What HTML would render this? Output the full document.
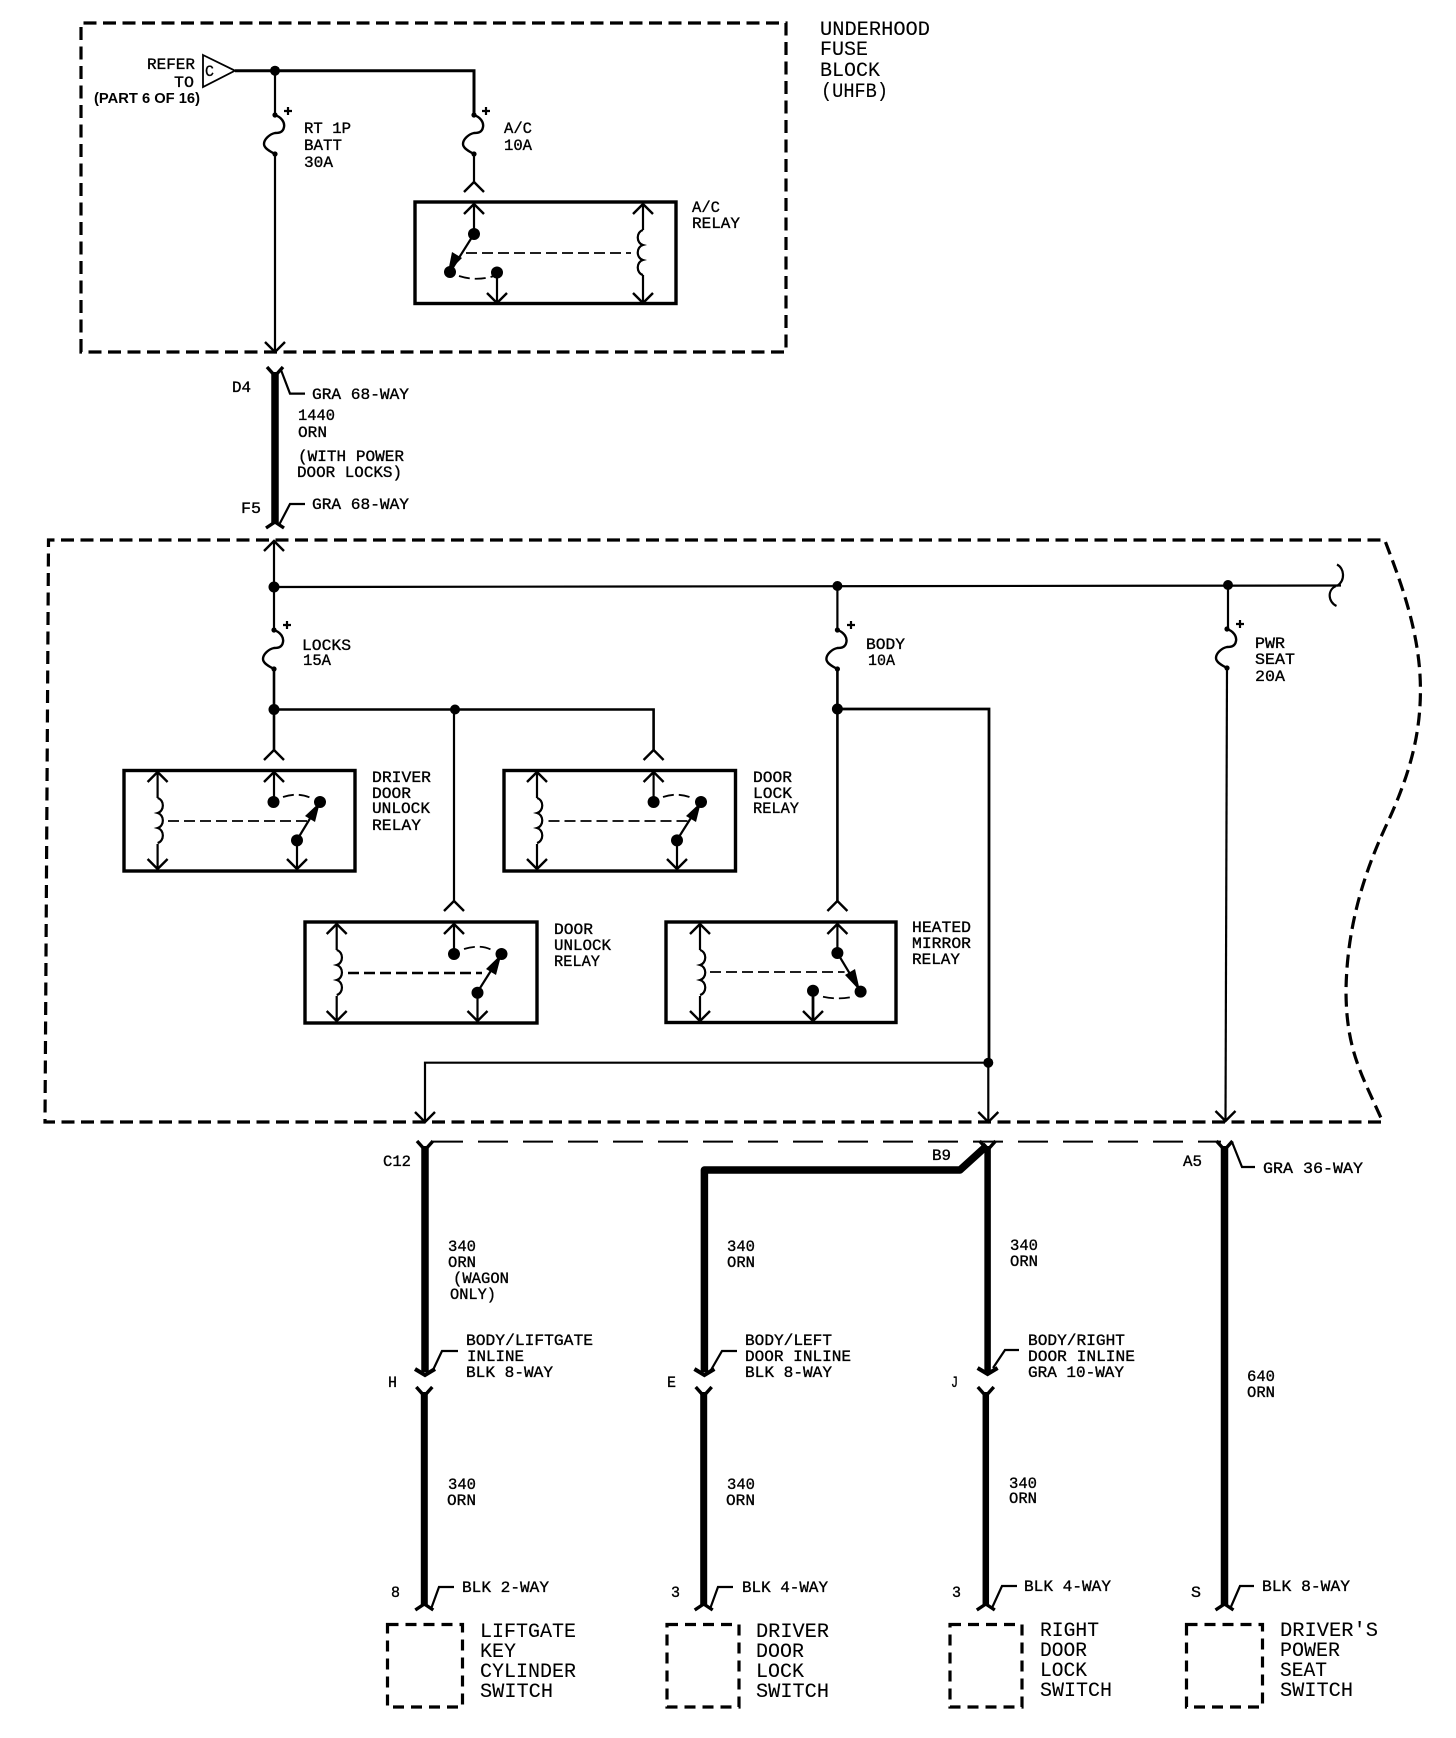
<!DOCTYPE html>
<html><head><meta charset="utf-8"><style>
html,body{margin:0;padding:0;background:#fff}
svg{display:block}
text{font-family:"Liberation Mono","DejaVu Sans Mono",monospace;fill:#000;stroke:#000}
.s{font-size:16px;stroke-width:.35px}
.l{font-size:20px;stroke-width:.1px}
.w{fill:none;stroke:#000;stroke-width:2.2}
.t{fill:none;stroke:#000;stroke-width:7.5;stroke-linejoin:round}
.b{fill:none;stroke:#000;stroke-width:3.4}
.d{fill:none;stroke:#000;stroke-width:3.2;stroke-dasharray:13 6.5}
.f{fill:none;stroke:#000;stroke-width:1.8;stroke-dasharray:11 5}
.q{fill:none;stroke:#000;stroke-width:1.8}
</style></head><body>
<svg width="1456" height="1738" viewBox="0 0 1456 1738" xmlns="http://www.w3.org/2000/svg">
<defs>
<path id="dn" d="M-10,-10 L0,0 L10,-10" fill="none" stroke="#000" stroke-width="2.4"/>
<path id="up" d="M-10,10 L0,0 L10,10" fill="none" stroke="#000" stroke-width="2.4"/>
<g id="fuse"><path d="M0,0 C6,2 10,7 9,12 C8,18 3,18 0,18 C-5,19 -11,24 -11,29 C-11,33 -6,36 0,39" fill="none" stroke="#000" stroke-width="2.4"/><circle r="2.6"/><circle cy="39" r="2.6"/></g>
<path id="coil" d="M0,0 c7,2 7,13 0,15 c7,2 7,13 0,15 c7,2 7,13 0,15" fill="none" stroke="#000" stroke-width="2.2"/>
<path id="hd" d="M-10,-5 L0,1 L10,-5" fill="none" stroke="#000" stroke-width="4"/>
<path id="hu" d="M-8,-5 L0,4 L8,-5" fill="none" stroke="#000" stroke-width="3.4"/>
<path id="hb" d="M-9,1 L0,-5 L9,1" fill="none" stroke="#000" stroke-width="3.4"/>
</defs>

<!-- UHFB box -->
<path class="d" d="M81,352 L81,23 L786,23 L786,352 Z"/>
<text class="l" x="820" y="35" textLength="110" lengthAdjust="spacingAndGlyphs">UNDERHOOD</text>
<text class="l" x="820" y="55" textLength="48" lengthAdjust="spacingAndGlyphs">FUSE</text>
<text class="l" x="820" y="76" textLength="60" lengthAdjust="spacingAndGlyphs">BLOCK</text>
<text class="l" x="821" y="97" textLength="67" lengthAdjust="spacingAndGlyphs">(UHFB)</text>

<text class="s" x="147" y="69" textLength="48" lengthAdjust="spacingAndGlyphs">REFER</text>
<text class="s" x="174" y="87" textLength="20" lengthAdjust="spacingAndGlyphs">TO</text>
<text class="s" x="94" y="103" textLength="106" lengthAdjust="spacingAndGlyphs" style="font-family:'Liberation Sans',sans-serif;font-size:14.5px;font-weight:bold;stroke-width:0">(PART 6 OF 16)</text>
<path class="q" d="M203,55 L235,70.7 L203,87 Z"/>
<text class="s" x="205" y="76" textLength="9" lengthAdjust="spacingAndGlyphs">C</text>
<path class="w" style="stroke-width:3" d="M235,70.7 H474 V115"/>
<circle cx="275" cy="70.7" r="5"/>
<path class="w" d="M275,70.7 V115"/>
<use href="#fuse" x="275" y="115"/>
<use href="#fuse" x="474" y="115"/>
<path class="w" d="M275,154 V352"/>
<use href="#dn" x="275" y="352"/>
<path class="w" d="M474,154 V182"/>
<use href="#up" x="474" y="182"/>
<path class="w" d="M284,111 h8 M288,107 v8"/>
<path class="w" d="M482,111 h8 M486,107 v8"/>
<text class="s" x="304" y="133" textLength="47" lengthAdjust="spacingAndGlyphs">RT 1P</text>
<text class="s" x="304" y="150" textLength="38" lengthAdjust="spacingAndGlyphs">BATT</text>
<text class="s" x="304" y="167" textLength="29" lengthAdjust="spacingAndGlyphs">30A</text>
<text class="s" x="504" y="133" textLength="28" lengthAdjust="spacingAndGlyphs">A/C</text>
<text class="s" x="504" y="150" textLength="28" lengthAdjust="spacingAndGlyphs">10A</text>

<!-- A/C relay -->
<rect class="b" x="415" y="202" width="261" height="101.5"/>
<text class="s" x="692" y="212" textLength="28" lengthAdjust="spacingAndGlyphs">A/C</text>
<text class="s" x="692" y="228" textLength="48" lengthAdjust="spacingAndGlyphs">RELAY</text>
<use href="#up" x="474" y="204"/><path class="w" d="M474,204 V234"/>
<circle cx="474" cy="234" r="6"/>
<path class="w" d="M474,234 L450,272"/>
<path d="M448,272 L452,252 L462,258 Z"/>
<circle cx="450" cy="272" r="6"/>
<path class="f" d="M459,276 Q478,282 497,275"/>
<circle cx="497" cy="272.5" r="6"/>
<path class="w" d="M497,272 V303"/><use href="#dn" x="497" y="303"/>
<use href="#up" x="643" y="204"/><path class="w" d="M643,204 V230 M643,275 V303"/><use href="#dn" x="643" y="303"/>
<use href="#coil" transform="translate(643,230) scale(-1,1)"/>
<path class="f" d="M466,253 H631"/>

<!-- D4 to F5 -->
<path class="t" d="M275,372 V524"/>
<use href="#hu" x="275" y="372"/>
<use href="#hb" x="275" y="527"/>
<text class="s" x="232" y="392" textLength="19" lengthAdjust="spacingAndGlyphs">D4</text>
<path class="w" d="M281,370 L290,393.6 H305"/>
<text class="s" x="312" y="399" textLength="97" lengthAdjust="spacingAndGlyphs">GRA 68-WAY</text>
<text class="s" x="298" y="420" textLength="37" lengthAdjust="spacingAndGlyphs">1440</text>
<text class="s" x="298" y="437" textLength="29" lengthAdjust="spacingAndGlyphs">ORN</text>
<text class="s" x="298" y="461" textLength="106" lengthAdjust="spacingAndGlyphs">(WITH POWER</text>
<text class="s" x="297" y="477" textLength="105" lengthAdjust="spacingAndGlyphs">DOOR LOCKS)</text>
<text class="s" x="241" y="513" textLength="20" lengthAdjust="spacingAndGlyphs">F5</text>
<path class="w" d="M279,525 L290,504 H305"/>
<text class="s" x="312" y="509" textLength="97" lengthAdjust="spacingAndGlyphs">GRA 68-WAY</text>

<!-- Fuse block main -->
<path class="d" d="M1381,1122 H45 L48.5,540 H1384.7 C1400,580 1417,625 1420,675 C1423,730 1410,775 1385,828 C1362,878 1347,930 1346,990 C1346,1050 1362,1075 1381,1118"/>
<use href="#up" x="274" y="541"/>
<path class="w" d="M274,541 V630"/>
<circle cx="274" cy="587" r="5.5"/>
<path class="w" d="M274,587 L1341,585.5"/>
<path class="w" d="M1337,564.5 C1344,568 1346,580 1337,586 M1336,586 C1327,590 1328,602 1336.5,606"/>
<circle cx="837.4" cy="586" r="5"/>
<circle cx="1228" cy="585" r="5"/>
<path class="w" d="M837.4,586 V630 M1228,585 V629"/>
<use href="#fuse" x="274" y="630"/>
<use href="#fuse" x="837.4" y="630"/>
<use href="#fuse" x="1227" y="629"/>
<path class="w" d="M283,625 h8 M287,621 v8"/>
<path class="w" d="M847,625 h8 M851,621 v8"/>
<path class="w" d="M1236,624 h8 M1240,620 v8"/>
<text class="s" x="302" y="650" textLength="49" lengthAdjust="spacingAndGlyphs">LOCKS</text>
<text class="s" x="303" y="665" textLength="28" lengthAdjust="spacingAndGlyphs">15A</text>
<text class="s" x="866" y="649" textLength="39" lengthAdjust="spacingAndGlyphs">BODY</text>
<text class="s" x="868" y="665" textLength="27" lengthAdjust="spacingAndGlyphs">10A</text>
<text class="s" x="1255" y="648" textLength="30" lengthAdjust="spacingAndGlyphs">PWR</text>
<text class="s" x="1255" y="664" textLength="40" lengthAdjust="spacingAndGlyphs">SEAT</text>
<text class="s" x="1255" y="681" textLength="30" lengthAdjust="spacingAndGlyphs">20A</text>

<path class="w" style="stroke-width:2.6" d="M274,669 V750"/>
<circle cx="274" cy="709.5" r="5.5"/>
<path class="w" style="stroke-width:2.6" d="M274,709.5 H653.6 V750"/>
<circle cx="455" cy="709.5" r="5"/>
<path class="w" d="M454,709 V901.6"/>
<use href="#up" x="274" y="750"/><use href="#up" x="653.6" y="750"/><use href="#up" x="454" y="901"/><use href="#up" x="837.4" y="901"/>

<path class="w" style="stroke-width:2.6" d="M837.4,669 V901"/>
<circle cx="837.4" cy="709" r="5.5"/>
<path class="w" style="stroke-width:2.8" d="M837.4,709 H989 V1062"/>
<path class="w" d="M988.3,1062 V1122"/>
<use href="#dn" x="988.3" y="1122"/>
<circle cx="988.3" cy="1062.7" r="5"/>
<path class="w" d="M988.3,1062.7 H425 V1122"/>
<use href="#dn" x="425" y="1122"/>
<path class="w" d="M1227,668 L1225.5,1121"/>
<use href="#dn" x="1225.5" y="1121"/>

<!-- Driver door unlock relay -->
<rect class="b" x="124" y="770.5" width="231" height="100.5"/>
<use href="#up" x="157.6" y="772"/><path class="w" d="M157.6,772 V798 M157.6,844 V869"/><use href="#dn" x="157.6" y="869"/>
<use href="#coil" x="157.6" y="798"/>
<path class="f" d="M168,821 H311"/>
<use href="#up" x="274" y="772"/><path class="w" d="M274,772 V802"/><circle cx="273.5" cy="802" r="6"/>
<path class="f" d="M283,797 Q298,792 311,798"/><circle cx="320" cy="802" r="6"/>
<path class="w" d="M297,840 L320,802"/><path d="M320,802 L315,822 L305,816 Z"/>
<circle cx="297" cy="840.4" r="6"/>
<path class="w" d="M297,840 V869"/><use href="#dn" x="297" y="869"/>
<text class="s" x="372" y="782" textLength="59" lengthAdjust="spacingAndGlyphs">DRIVER</text>
<text class="s" x="372" y="798" textLength="39" lengthAdjust="spacingAndGlyphs">DOOR</text>
<text class="s" x="372" y="813" textLength="58" lengthAdjust="spacingAndGlyphs">UNLOCK</text>
<text class="s" x="372" y="830" textLength="49" lengthAdjust="spacingAndGlyphs">RELAY</text>

<!-- Door lock relay -->
<rect class="b" x="504" y="770.5" width="231.5" height="100.5"/>
<use href="#up" x="537" y="772"/><path class="w" d="M537,772 V798 M537,844 V869"/><use href="#dn" x="537" y="869"/>
<use href="#coil" x="537" y="798"/>
<path class="f" d="M548.5,821 H689"/>
<use href="#up" x="653.6" y="772"/><path class="w" d="M653.6,772 V802"/><circle cx="653.6" cy="802" r="6"/>
<path class="f" d="M663,797 Q678,792 692,798"/><circle cx="701" cy="802" r="6"/>
<path class="w" d="M677,840 L701,802"/><path d="M701,802 L696,822 L686,816 Z"/>
<circle cx="677" cy="840.4" r="6"/>
<path class="w" d="M677,840 V869"/><use href="#dn" x="677" y="869"/>
<text class="s" x="753" y="782" textLength="39" lengthAdjust="spacingAndGlyphs">DOOR</text>
<text class="s" x="753" y="798" textLength="39" lengthAdjust="spacingAndGlyphs">LOCK</text>
<text class="s" x="753" y="813" textLength="46" lengthAdjust="spacingAndGlyphs">RELAY</text>

<!-- Door unlock relay -->
<rect class="b" x="305" y="922" width="232" height="101"/>
<use href="#up" x="336.7" y="924"/><path class="w" d="M336.7,924 V950 M336.7,996 V1021"/><use href="#dn" x="336.7" y="1021"/>
<use href="#coil" x="336.7" y="950"/>
<path class="f" style="stroke-width:2.4" d="M348,973 H482"/>
<use href="#up" x="454" y="924"/><path class="w" d="M454,924 V954"/><circle cx="454" cy="954" r="6"/>
<path class="f" d="M464,949 Q480,944 492,950"/><circle cx="501.5" cy="954" r="6"/>
<path class="w" d="M477.5,992 L501.5,954"/><path d="M501.5,954 L496,975 L486,969 Z"/>
<circle cx="477.5" cy="992.7" r="6"/>
<path class="w" d="M477.5,992 V1021"/><use href="#dn" x="477.5" y="1021"/>
<text class="s" x="554" y="934" textLength="39" lengthAdjust="spacingAndGlyphs">DOOR</text>
<text class="s" x="554" y="950" textLength="57" lengthAdjust="spacingAndGlyphs">UNLOCK</text>
<text class="s" x="554" y="966" textLength="46" lengthAdjust="spacingAndGlyphs">RELAY</text>

<!-- Heated mirror relay -->
<rect class="b" x="666" y="922" width="230" height="100.5"/>
<use href="#up" x="700" y="924"/><path class="w" d="M700,924 V950 M700,996 V1021"/><use href="#dn" x="700" y="1021"/>
<use href="#coil" x="700" y="950"/>
<path class="f" d="M710,972 H844.6"/>
<use href="#up" x="837.4" y="924"/><path class="w" d="M837.4,924 V953"/><circle cx="837.4" cy="953" r="6"/>
<path class="w" d="M837.4,953 L860.6,991.6"/><path d="M860,991 L845,975 L855,969 Z"/>
<circle cx="860.6" cy="991.6" r="6"/>
<path class="f" d="M823,996.7 Q838,1000 853,996.7"/><circle cx="813" cy="990.8" r="6"/>
<path class="w" style="stroke-width:2.8" d="M813,991 V1021"/><use href="#dn" x="813" y="1021"/>
<text class="s" x="912" y="932" textLength="59" lengthAdjust="spacingAndGlyphs">HEATED</text>
<text class="s" x="912" y="948" textLength="59" lengthAdjust="spacingAndGlyphs">MIRROR</text>
<text class="s" x="912" y="964" textLength="48" lengthAdjust="spacingAndGlyphs">RELAY</text>

<!-- Lower connector line -->
<path class="q" style="stroke-width:2" stroke-dasharray="30 15" d="M433,1141.6 H1221"/>

<!-- Liftgate column -->
<path class="t" d="M425,1146 V1372"/><use href="#hu" x="425" y="1146"/><use href="#hd" x="425" y="1374"/>
<path class="t" style="stroke-width:7" d="M424.3,1392 V1606"/><use href="#hu" x="424.3" y="1392"/><use href="#hb" x="424.3" y="1609"/>
<text class="s" x="383" y="1166" textLength="28" lengthAdjust="spacingAndGlyphs">C12</text>
<text class="s" x="448" y="1251" textLength="28" lengthAdjust="spacingAndGlyphs">340</text>
<text class="s" x="448" y="1267" textLength="28" lengthAdjust="spacingAndGlyphs">ORN</text>
<text class="s" x="453" y="1283" textLength="56" lengthAdjust="spacingAndGlyphs">(WAGON</text>
<text class="s" x="450" y="1299" textLength="46" lengthAdjust="spacingAndGlyphs">ONLY)</text>
<text class="s" x="466" y="1345" textLength="127" lengthAdjust="spacingAndGlyphs">BODY/LIFTGATE</text>
<text class="s" x="467" y="1361" textLength="57" lengthAdjust="spacingAndGlyphs">INLINE</text>
<text class="s" x="466" y="1377" textLength="87" lengthAdjust="spacingAndGlyphs">BLK 8-WAY</text>
<path class="w" d="M433,1370 L442,1351 H458"/>
<text class="s" x="388" y="1387" textLength="9" lengthAdjust="spacingAndGlyphs">H</text>
<text class="s" x="448" y="1489" textLength="28" lengthAdjust="spacingAndGlyphs">340</text>
<text class="s" x="447" y="1505" textLength="29" lengthAdjust="spacingAndGlyphs">ORN</text>
<text class="s" x="391" y="1597" textLength="9" lengthAdjust="spacingAndGlyphs">8</text>
<text class="s" x="462" y="1592" textLength="87" lengthAdjust="spacingAndGlyphs">BLK 2-WAY</text>
<path class="w" d="M431,1609 L439,1587 H454"/>
<path class="d" style="stroke-dasharray:11 7" d="M387.5,1624.5 H462.5 V1707 H387.5 Z"/>
<text class="l" x="480" y="1637" textLength="96" lengthAdjust="spacingAndGlyphs">LIFTGATE</text>
<text class="l" x="480" y="1657" textLength="36" lengthAdjust="spacingAndGlyphs">KEY</text>
<text class="l" x="480" y="1677" textLength="96" lengthAdjust="spacingAndGlyphs">CYLINDER</text>
<text class="l" x="480" y="1697" textLength="73" lengthAdjust="spacingAndGlyphs">SWITCH</text>

<!-- Driver door column -->
<path class="t" d="M987,1145.5 L960,1170 H704.4 V1372"/><use href="#hd" x="704.4" y="1374"/>
<path class="t" style="stroke-width:7" d="M703.7,1392 V1606"/><use href="#hu" x="703.7" y="1392"/><use href="#hb" x="703.7" y="1609"/>
<text class="s" x="932" y="1160" textLength="19" lengthAdjust="spacingAndGlyphs">B9</text>
<text class="s" x="727" y="1251" textLength="28" lengthAdjust="spacingAndGlyphs">340</text>
<text class="s" x="727" y="1267" textLength="28" lengthAdjust="spacingAndGlyphs">ORN</text>
<text class="s" x="745" y="1345" textLength="87" lengthAdjust="spacingAndGlyphs">BODY/LEFT</text>
<text class="s" x="745" y="1361" textLength="106" lengthAdjust="spacingAndGlyphs">DOOR INLINE</text>
<text class="s" x="745" y="1377" textLength="87" lengthAdjust="spacingAndGlyphs">BLK 8-WAY</text>
<path class="w" d="M711,1370 L722,1351 H737"/>
<text class="s" x="667" y="1387" textLength="9" lengthAdjust="spacingAndGlyphs">E</text>
<text class="s" x="727" y="1489" textLength="28" lengthAdjust="spacingAndGlyphs">340</text>
<text class="s" x="726" y="1505" textLength="29" lengthAdjust="spacingAndGlyphs">ORN</text>
<text class="s" x="671" y="1597" textLength="9" lengthAdjust="spacingAndGlyphs">3</text>
<text class="s" x="742" y="1592" textLength="86" lengthAdjust="spacingAndGlyphs">BLK 4-WAY</text>
<path class="w" d="M710,1609 L718,1587 H733"/>
<path class="d" style="stroke-dasharray:11 7" d="M667,1624.5 H739 V1707 H667 Z"/>
<text class="l" x="756" y="1637" textLength="73" lengthAdjust="spacingAndGlyphs">DRIVER</text>
<text class="l" x="756" y="1657" textLength="48" lengthAdjust="spacingAndGlyphs">DOOR</text>
<text class="l" x="756" y="1677" textLength="48" lengthAdjust="spacingAndGlyphs">LOCK</text>
<text class="l" x="756" y="1697" textLength="73" lengthAdjust="spacingAndGlyphs">SWITCH</text>

<!-- Right door column -->
<path class="t" style="stroke-width:6.5" d="M987.6,1146 V1372"/><use href="#hu" x="987.6" y="1146"/><use href="#hd" x="987.6" y="1373"/>
<path class="t" style="stroke-width:6.5" d="M985.8,1392 V1606"/><use href="#hu" x="985.8" y="1392"/><use href="#hb" x="985.8" y="1609"/>
<text class="s" x="1010" y="1250" textLength="28" lengthAdjust="spacingAndGlyphs">340</text>
<text class="s" x="1010" y="1266" textLength="28" lengthAdjust="spacingAndGlyphs">ORN</text>
<text class="s" x="1028" y="1345" textLength="97" lengthAdjust="spacingAndGlyphs">BODY/RIGHT</text>
<text class="s" x="1028" y="1361" textLength="107" lengthAdjust="spacingAndGlyphs">DOOR INLINE</text>
<text class="s" x="1028" y="1377" textLength="96" lengthAdjust="spacingAndGlyphs">GRA 10-WAY</text>
<path class="w" d="M993,1368 L1005,1350 H1019"/>
<text class="s" x="951" y="1387" textLength="7" lengthAdjust="spacingAndGlyphs">J</text>
<text class="s" x="1009" y="1488" textLength="28" lengthAdjust="spacingAndGlyphs">340</text>
<text class="s" x="1009" y="1503" textLength="28" lengthAdjust="spacingAndGlyphs">ORN</text>
<text class="s" x="952" y="1597" textLength="9" lengthAdjust="spacingAndGlyphs">3</text>
<text class="s" x="1024" y="1591" textLength="87" lengthAdjust="spacingAndGlyphs">BLK 4-WAY</text>
<path class="w" d="M991.5,1609 L1002,1586 H1017"/>
<path class="d" style="stroke-dasharray:11 7" d="M950,1624.5 H1022 V1707 H950 Z"/>
<text class="l" x="1040" y="1636" textLength="59" lengthAdjust="spacingAndGlyphs">RIGHT</text>
<text class="l" x="1040" y="1656" textLength="47" lengthAdjust="spacingAndGlyphs">DOOR</text>
<text class="l" x="1040" y="1676" textLength="47" lengthAdjust="spacingAndGlyphs">LOCK</text>
<text class="l" x="1040" y="1696" textLength="72" lengthAdjust="spacingAndGlyphs">SWITCH</text>

<!-- Power seat column -->
<path class="t" d="M1224.5,1146 V1606"/><use href="#hu" x="1224.5" y="1146"/><use href="#hb" x="1224.5" y="1609"/>
<text class="s" x="1183" y="1166" textLength="19" lengthAdjust="spacingAndGlyphs">A5</text>
<path class="w" d="M1232,1142 L1242,1167 H1255"/>
<text class="s" x="1263" y="1173" textLength="100" lengthAdjust="spacingAndGlyphs">GRA 36-WAY</text>
<text class="s" x="1247" y="1381" textLength="28" lengthAdjust="spacingAndGlyphs">640</text>
<text class="s" x="1247" y="1397" textLength="28" lengthAdjust="spacingAndGlyphs">ORN</text>
<text class="s" x="1191" y="1597" textLength="10" lengthAdjust="spacingAndGlyphs">S</text>
<text class="s" x="1262" y="1591" textLength="88" lengthAdjust="spacingAndGlyphs">BLK 8-WAY</text>
<path class="w" d="M1230,1609 L1240,1586 H1254"/>
<path class="d" style="stroke-dasharray:11 7" d="M1186.5,1624.5 H1262.5 V1707 H1186.5 Z"/>
<text class="l" x="1280" y="1636" textLength="98" lengthAdjust="spacingAndGlyphs">DRIVER'S</text>
<text class="l" x="1280" y="1656" textLength="60" lengthAdjust="spacingAndGlyphs">POWER</text>
<text class="l" x="1280" y="1676" textLength="47" lengthAdjust="spacingAndGlyphs">SEAT</text>
<text class="l" x="1280" y="1696" textLength="73" lengthAdjust="spacingAndGlyphs">SWITCH</text>
</svg>
</body></html>
